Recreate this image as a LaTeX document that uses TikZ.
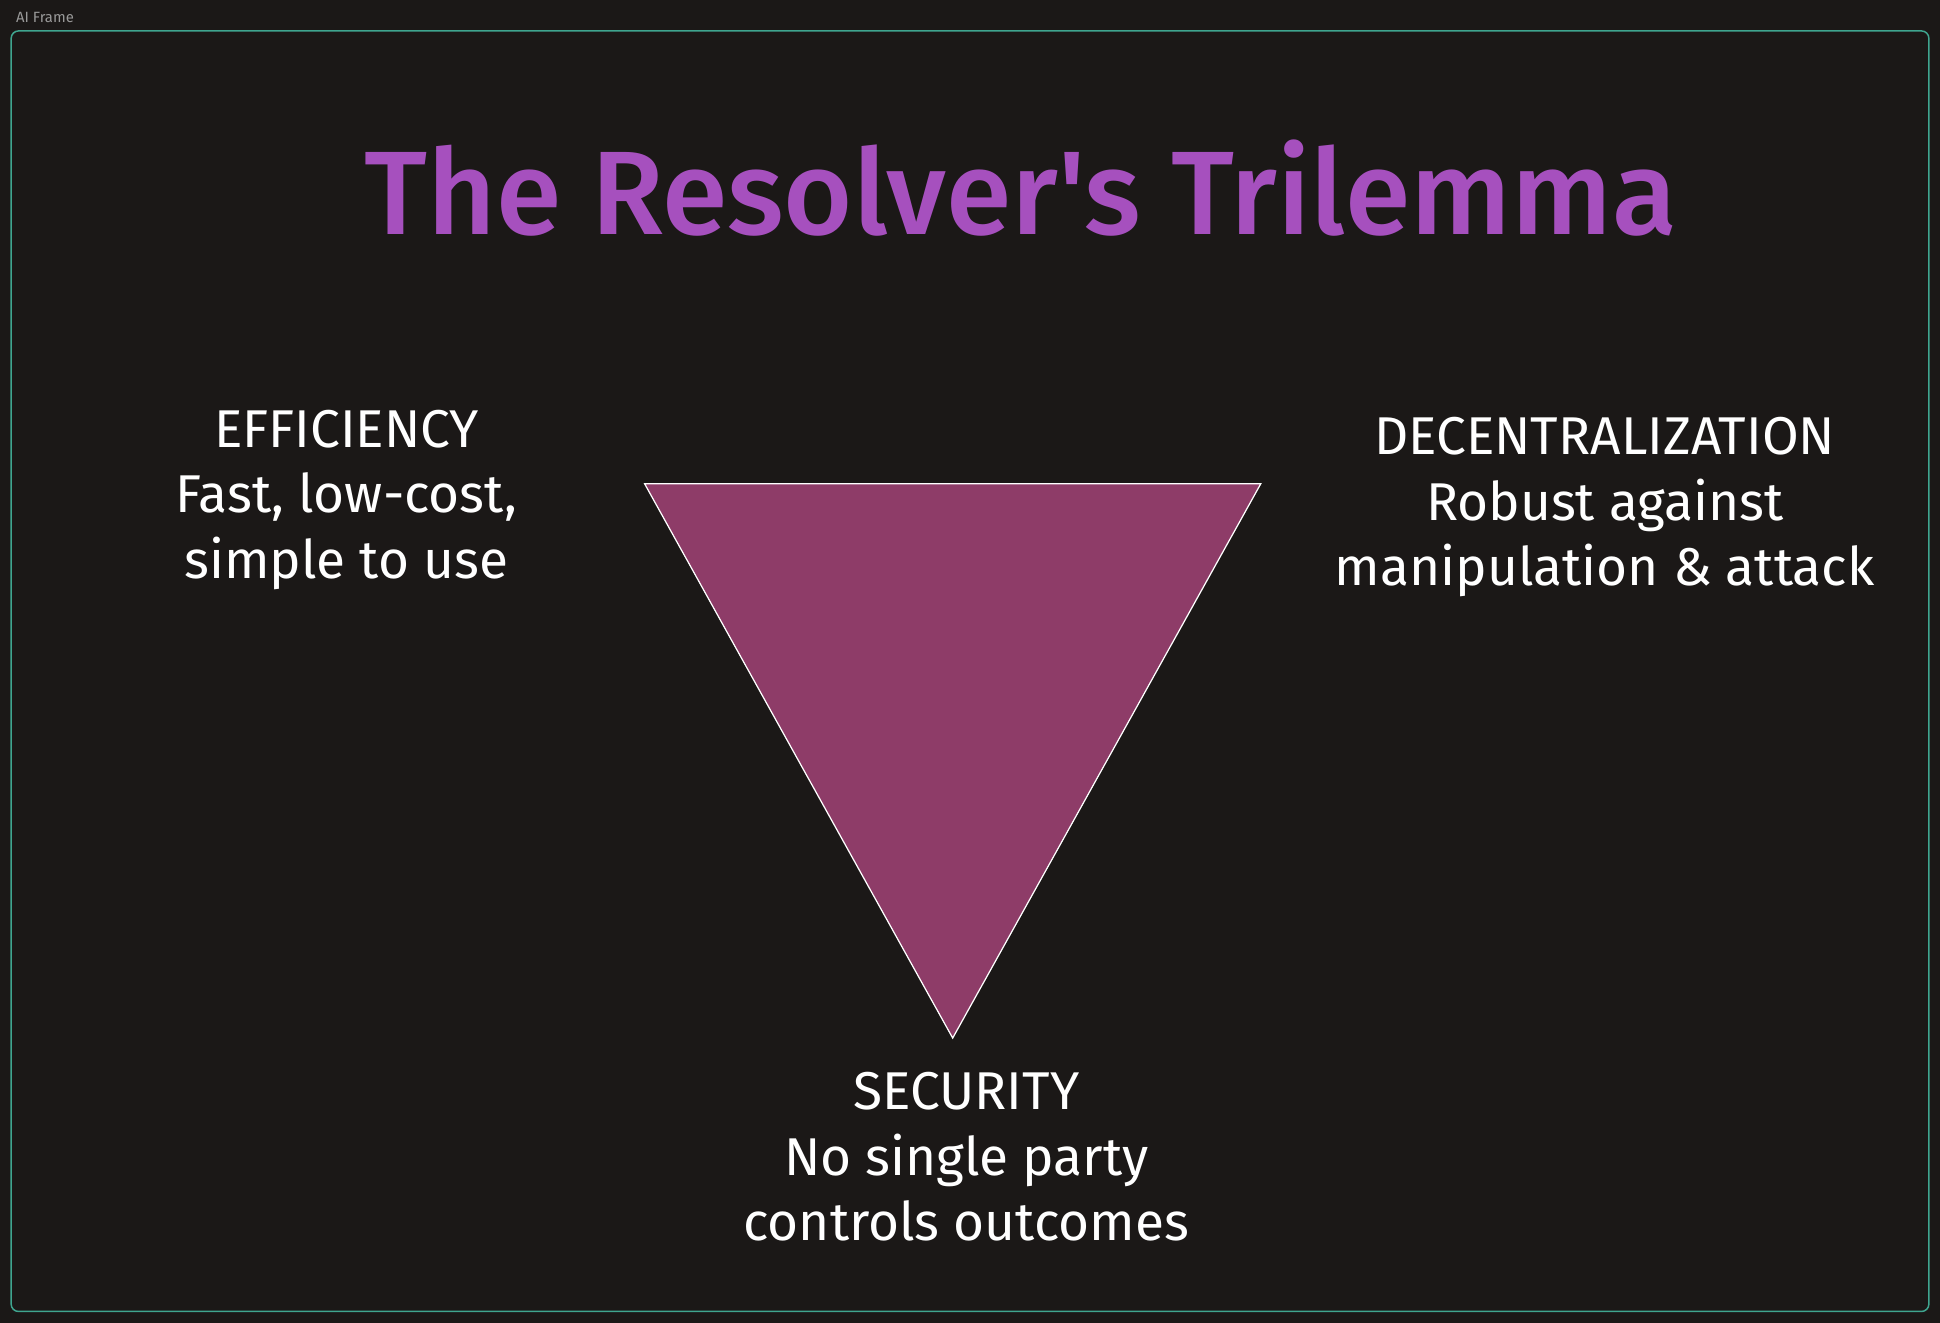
\documentclass[tikz,border=0pt]{standalone}
\usepackage{fontspec}
\setmainfont{Fira Sans}
\newfontfamily\titlefont{Fira Sans Medium}
\definecolor{bg}{HTML}{1B1817}
\definecolor{frame}{HTML}{3FA58F}
\definecolor{titlec}{HTML}{A650BE}
\definecolor{tri}{HTML}{8E3C68}
\begin{document}
\begin{tikzpicture}[x=0.5pt,y=-0.5pt,
  lbl/.style={text=white,align=center,font=\fontsize{21.5}{26.5}\selectfont}]
\fill[bg] (0,0) rectangle (1568,1069);
\useasboundingbox (0,0) rectangle (1568,1069);
\draw[frame,line width=0.6pt,rounded corners=3pt] (9,25) rectangle (1559,1060);
\node[anchor=west,text=gray!80,font=\fontsize{6}{7}\selectfont] (frm) at (6,14) {AI Frame};
\node[text=titlec,font=\titlefont\fontsize{48}{56}\selectfont] (title) at (825,152) {The Resolver's Trilemma};
\coordinate (a) at (521,391); \coordinate (b) at (1019,391); \coordinate (c) at (770,839);
\filldraw[fill=tri,draw=white,line width=0.5pt] (a) -- (b) -- (c) -- cycle;
\node[lbl] (eff) at (280,404) {EFFICIENCY\\Fast, low-cost,\\simple to use};
\node[lbl] (dec) at (1297,410) {DECENTRALIZATION\\Robust against\\manipulation \& attack};
\node[lbl] (sec) at (781,935) {SECURITY\\No single party\\controls outcomes};
\end{tikzpicture}
\end{document}
